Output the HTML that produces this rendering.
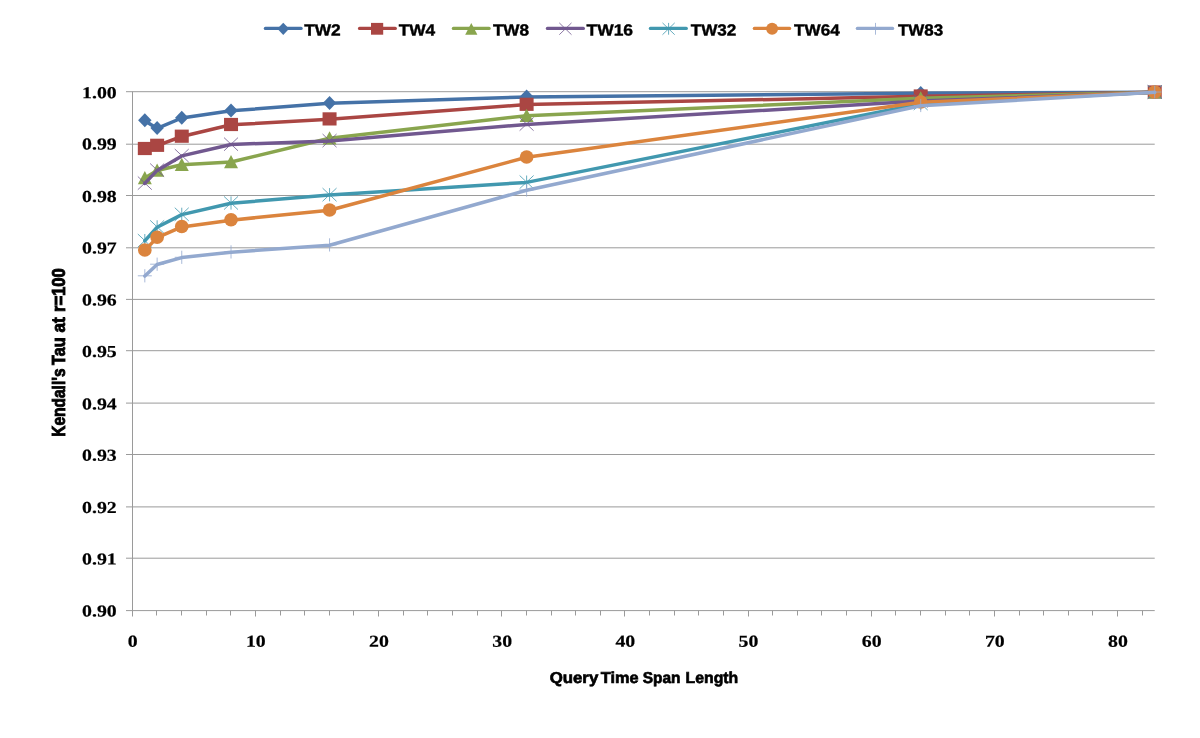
<!DOCTYPE html>
<html lang="en"><head><meta charset="utf-8"><title>Kendall's Tau at r=100 vs Query Time Span Length</title>
<style>
html,body{margin:0;padding:0;background:#fff;}
body{width:1200px;height:738px;overflow:hidden;}
svg{display:block;}
text{font-family:"Liberation Sans",sans-serif;font-weight:bold;fill:#000;}
text.tick,.tick text{font-family:"Liberation Serif",serif;font-weight:bold;font-size:16.8px;stroke:#000;stroke-width:0.2px;}
text.leg{font-size:16.1px;}
text.ttl{font-size:15.8px;stroke:#000;stroke-width:0.65px;}
text.yt{font-size:18.2px;stroke-width:0.9px;}
text.leg{stroke:#000;stroke-width:0.4px;}
</style></head><body>
<svg width="1200" height="738" viewBox="0 0 1200 738">
<rect width="1200" height="738" fill="#fff"/>
<g stroke="#9a9a9a" stroke-width="1" fill="none">
<path d="M126 91.7H1154.73"/>
<path d="M126 144.2H1154.73"/>
<path d="M126 195.5H1154.73"/>
<path d="M126 247.8H1154.73"/>
<path d="M126 299.4H1154.73"/>
<path d="M126 350.7H1154.73"/>
<path d="M126 403.1H1154.73"/>
<path d="M126 454.5H1154.73"/>
<path d="M126 506.9H1154.73"/>
<path d="M126 558.2H1154.73"/>
<path d="M126 610.6H1154.73"/>
<path d="M132.5 91.6V616.5"/>
<path d="M156.5 610.5v5M181.5 610.5v5M206.5 610.5v5M230.5 610.5v5M255.5 610.5v6M280.5 610.5v5M304.5 610.5v5M329.5 610.5v5M353.5 610.5v5M378.5 610.5v6M403.5 610.5v5M427.5 610.5v5M452.5 610.5v5M477.5 610.5v5M501.5 610.5v6M526.5 610.5v5M551.5 610.5v5M575.5 610.5v5M600.5 610.5v5M624.5 610.5v6M649.5 610.5v5M674.5 610.5v5M698.5 610.5v5M723.5 610.5v5M748.5 610.5v6M772.5 610.5v5M797.5 610.5v5M821.5 610.5v5M846.5 610.5v5M871.5 610.5v6M895.5 610.5v5M920.5 610.5v5M945.5 610.5v5M969.5 610.5v5M994.5 610.5v6M1019.5 610.5v5M1043.5 610.5v5M1068.5 610.5v5M1092.5 610.5v5M1117.5 610.5v6M1142.5 610.5v5"/>
</g>
<g class="tick" text-anchor="end">
<text transform="translate(116.7 98.2) rotate(0.03) scale(1.18 1)">1.00</text>
<text transform="translate(116.7 149.6) rotate(0.03) scale(1.18 1)">0.99</text>
<text transform="translate(116.7 202.1) rotate(0.03) scale(1.18 1)">0.98</text>
<text transform="translate(116.7 253.5) rotate(0.03) scale(1.18 1)">0.97</text>
<text transform="translate(116.7 305.4) rotate(0.03) scale(1.18 1)">0.96</text>
<text transform="translate(116.7 356.9) rotate(0.03) scale(1.18 1)">0.95</text>
<text transform="translate(116.7 409.4) rotate(0.03) scale(1.18 1)">0.94</text>
<text transform="translate(116.7 460.8) rotate(0.03) scale(1.18 1)">0.93</text>
<text transform="translate(116.7 513.1) rotate(0.03) scale(1.18 1)">0.92</text>
<text transform="translate(116.7 564.6) rotate(0.03) scale(1.18 1)">0.91</text>
<text transform="translate(116.7 616.6) rotate(0.03) scale(1.18 1)">0.90</text>
</g>
<g class="tick" text-anchor="middle">
<text transform="translate(132.7 646.7) rotate(0.03) scale(1.18 1)">0</text>
<text transform="translate(255.86 646.7) rotate(0.03) scale(1.18 1)">10</text>
<text transform="translate(379.02 646.7) rotate(0.03) scale(1.18 1)">20</text>
<text transform="translate(502.18 646.7) rotate(0.03) scale(1.18 1)">30</text>
<text transform="translate(625.34 646.7) rotate(0.03) scale(1.18 1)">40</text>
<text transform="translate(748.5 646.7) rotate(0.03) scale(1.18 1)">50</text>
<text transform="translate(871.66 646.7) rotate(0.03) scale(1.18 1)">60</text>
<text transform="translate(994.82 646.7) rotate(0.03) scale(1.18 1)">70</text>
<text transform="translate(1117.98 646.7) rotate(0.03) scale(1.18 1)">80</text>
</g>
<text class="ttl" transform="translate(0 682.6) rotate(0.03)"><tspan x="549.65" textLength="48.6" lengthAdjust="spacingAndGlyphs">Query</tspan> <tspan x="600.75" textLength="37.75" lengthAdjust="spacingAndGlyphs">Time</tspan> <tspan x="642.75" textLength="37.75" lengthAdjust="spacingAndGlyphs">Span</tspan> <tspan x="685.6" textLength="52.65" lengthAdjust="spacingAndGlyphs">Length</tspan></text>
<text class="ttl yt" transform="translate(65.4 436.5) rotate(-90)" y="0"><tspan x="-0.2" textLength="68.2" lengthAdjust="spacingAndGlyphs">Kendall's</tspan> <tspan x="71.5" textLength="27.5" lengthAdjust="spacingAndGlyphs">Tau</tspan> <tspan x="104" textLength="15.3" lengthAdjust="spacingAndGlyphs">at</tspan> <tspan x="124.5" textLength="43.75" lengthAdjust="spacingAndGlyphs">r=100</tspan></text>
<g>
<path d="M144.82 120.65L157.13 128.4L181.76 118L231.03 110.8L329.56 103.3L526.61 96.9L920.72 93.2L1154.73 92.3" stroke="#4572A7" stroke-width="3.5" fill="none" stroke-linejoin="round" stroke-linecap="round"/>
<path d="M144.82 113.35L151.54 120.35L144.82 127.35L138.1 120.35Z" fill="#4572A7"/>
<path d="M157.13 121.1L163.85 128.1L157.13 135.1L150.41 128.1Z" fill="#4572A7"/>
<path d="M181.76 110.7L188.48 117.7L181.76 124.7L175.04 117.7Z" fill="#4572A7"/>
<path d="M231.03 103.5L237.75 110.5L231.03 117.5L224.31 110.5Z" fill="#4572A7"/>
<path d="M329.56 96L336.28 103L329.56 110L322.84 103Z" fill="#4572A7"/>
<path d="M526.61 89.6L533.33 96.6L526.61 103.6L519.89 96.6Z" fill="#4572A7"/>
<path d="M920.72 85.9L927.44 92.9L920.72 99.9L914 92.9Z" fill="#4572A7"/>
<path d="M1154.73 85L1161.45 92L1154.73 99L1148.01 92Z" fill="#4572A7"/>
</g>
<g>
<path d="M144.82 148.8L157.13 145.6L181.76 136.5L231.03 124.8L329.56 119.2L526.61 104.6L920.72 96.3L1154.73 92.3" stroke="#AA4643" stroke-width="3.5" fill="none" stroke-linejoin="round" stroke-linecap="round"/>
<rect x="137.82" y="141.9" width="14" height="13.2" fill="#AA4643"/>
<rect x="150.13" y="138.7" width="14" height="13.2" fill="#AA4643"/>
<rect x="174.76" y="129.6" width="14" height="13.2" fill="#AA4643"/>
<rect x="224.03" y="117.9" width="14" height="13.2" fill="#AA4643"/>
<rect x="322.56" y="112.3" width="14" height="13.2" fill="#AA4643"/>
<rect x="519.61" y="97.7" width="14" height="13.2" fill="#AA4643"/>
<rect x="913.72" y="89.4" width="14" height="13.2" fill="#AA4643"/>
<rect x="1147.73" y="85.4" width="14" height="13.2" fill="#AA4643"/>
</g>
<g>
<path d="M144.82 177.9L157.13 170.5L181.76 164.7L231.03 162L329.56 138.2L526.61 115.7L920.72 98.2L1154.73 92.3" stroke="#89A54E" stroke-width="3.5" fill="none" stroke-linejoin="round" stroke-linecap="round"/>
<path d="M144.82 171L151.82 184.2L137.82 184.2Z" fill="#89A54E"/>
<path d="M157.13 163.6L164.13 176.8L150.13 176.8Z" fill="#89A54E"/>
<path d="M181.76 157.8L188.76 171L174.76 171Z" fill="#89A54E"/>
<path d="M231.03 155.1L238.03 168.3L224.03 168.3Z" fill="#89A54E"/>
<path d="M329.56 131.3L336.56 144.5L322.56 144.5Z" fill="#89A54E"/>
<path d="M526.61 108.8L533.61 122L519.61 122Z" fill="#89A54E"/>
<path d="M920.72 91.3L927.72 104.5L913.72 104.5Z" fill="#89A54E"/>
<path d="M1154.73 85.4L1161.73 98.6L1147.73 98.6Z" fill="#89A54E"/>
</g>
<g>
<path d="M144.82 183.4L157.13 170.4L181.76 155.9L231.03 144.5L329.56 140.9L526.61 124.4L920.72 101.1L1154.73 92.3" stroke="#71588F" stroke-width="3.5" fill="none" stroke-linejoin="round" stroke-linecap="round"/>
<path d="M137.82 176.5L151.82 189.7M137.82 189.7L151.82 176.5" stroke="#71588F" stroke-width="1" stroke-opacity="0.8" fill="none"/>
<path d="M150.13 163.5L164.13 176.7M150.13 176.7L164.13 163.5" stroke="#71588F" stroke-width="1" stroke-opacity="0.8" fill="none"/>
<path d="M174.76 149L188.76 162.2M174.76 162.2L188.76 149" stroke="#71588F" stroke-width="1" stroke-opacity="0.8" fill="none"/>
<path d="M224.03 137.6L238.03 150.8M224.03 150.8L238.03 137.6" stroke="#71588F" stroke-width="1" stroke-opacity="0.8" fill="none"/>
<path d="M322.56 134L336.56 147.2M322.56 147.2L336.56 134" stroke="#71588F" stroke-width="1" stroke-opacity="0.8" fill="none"/>
<path d="M519.61 117.5L533.61 130.7M519.61 130.7L533.61 117.5" stroke="#71588F" stroke-width="1" stroke-opacity="0.8" fill="none"/>
<path d="M913.72 94.2L927.72 107.4M913.72 107.4L927.72 94.2" stroke="#71588F" stroke-width="1" stroke-opacity="0.8" fill="none"/>
<path d="M1147.73 85.4L1161.73 98.6M1147.73 98.6L1161.73 85.4" stroke="#71588F" stroke-width="1" stroke-opacity="0.8" fill="none"/>
</g>
<g>
<path d="M144.82 240.9L157.13 227.2L181.76 214.6L231.03 203.3L329.56 195L526.61 182.4L920.72 103.8L1154.73 92.3" stroke="#4198AF" stroke-width="3.5" fill="none" stroke-linejoin="round" stroke-linecap="round"/>
<path d="M137.82 234L151.82 247.2M137.82 247.2L151.82 234M144.82 234L144.82 247.2" stroke="#4198AF" stroke-width="1" stroke-opacity="0.8" fill="none"/>
<path d="M150.13 220.3L164.13 233.5M150.13 233.5L164.13 220.3M157.13 220.3L157.13 233.5" stroke="#4198AF" stroke-width="1" stroke-opacity="0.8" fill="none"/>
<path d="M174.76 207.7L188.76 220.9M174.76 220.9L188.76 207.7M181.76 207.7L181.76 220.9" stroke="#4198AF" stroke-width="1" stroke-opacity="0.8" fill="none"/>
<path d="M224.03 196.4L238.03 209.6M224.03 209.6L238.03 196.4M231.03 196.4L231.03 209.6" stroke="#4198AF" stroke-width="1" stroke-opacity="0.8" fill="none"/>
<path d="M322.56 188.1L336.56 201.3M322.56 201.3L336.56 188.1M329.56 188.1L329.56 201.3" stroke="#4198AF" stroke-width="1" stroke-opacity="0.8" fill="none"/>
<path d="M519.61 175.5L533.61 188.7M519.61 188.7L533.61 175.5M526.61 175.5L526.61 188.7" stroke="#4198AF" stroke-width="1" stroke-opacity="0.8" fill="none"/>
<path d="M913.72 96.9L927.72 110.1M913.72 110.1L927.72 96.9M920.72 96.9L920.72 110.1" stroke="#4198AF" stroke-width="1" stroke-opacity="0.8" fill="none"/>
<path d="M1147.73 85.4L1161.73 98.6M1147.73 98.6L1161.73 85.4M1154.73 85.4L1154.73 98.6" stroke="#4198AF" stroke-width="1" stroke-opacity="0.8" fill="none"/>
</g>
<g>
<path d="M144.82 250.4L157.13 237.6L181.76 226.9L231.03 220.15L329.56 210.2L526.61 157.3L920.72 102.3L1154.73 92.3" stroke="#DB843D" stroke-width="3.5" fill="none" stroke-linejoin="round" stroke-linecap="round"/>
<ellipse cx="144.82" cy="250.1" rx="6.86" ry="6.73" fill="#DB843D"/>
<ellipse cx="157.13" cy="237.3" rx="6.86" ry="6.73" fill="#DB843D"/>
<ellipse cx="181.76" cy="226.6" rx="6.86" ry="6.73" fill="#DB843D"/>
<ellipse cx="231.03" cy="219.85" rx="6.86" ry="6.73" fill="#DB843D"/>
<ellipse cx="329.56" cy="209.9" rx="6.86" ry="6.73" fill="#DB843D"/>
<ellipse cx="526.61" cy="157" rx="6.86" ry="6.73" fill="#DB843D"/>
<ellipse cx="920.72" cy="102" rx="6.86" ry="6.73" fill="#DB843D"/>
<ellipse cx="1154.73" cy="92" rx="6.86" ry="6.73" fill="#DB843D"/>
</g>
<g>
<path d="M144.82 276.1L157.13 264.5L181.76 257.6L231.03 252.2L329.56 245.2L526.61 190.3L920.72 105.8L1154.73 92.3" stroke="#93A9CF" stroke-width="3.5" fill="none" stroke-linejoin="round" stroke-linecap="round"/>
<path d="M137.82 275.8L151.82 275.8M144.82 269.2L144.82 282.4" stroke="#93A9CF" stroke-width="1" stroke-opacity="0.8" fill="none"/>
<path d="M150.13 264.2L164.13 264.2M157.13 257.6L157.13 270.8" stroke="#93A9CF" stroke-width="1" stroke-opacity="0.8" fill="none"/>
<path d="M174.76 257.3L188.76 257.3M181.76 250.7L181.76 263.9" stroke="#93A9CF" stroke-width="1" stroke-opacity="0.8" fill="none"/>
<path d="M224.03 251.9L238.03 251.9M231.03 245.3L231.03 258.5" stroke="#93A9CF" stroke-width="1" stroke-opacity="0.8" fill="none"/>
<path d="M322.56 244.9L336.56 244.9M329.56 238.3L329.56 251.5" stroke="#93A9CF" stroke-width="1" stroke-opacity="0.8" fill="none"/>
<path d="M519.61 190L533.61 190M526.61 183.4L526.61 196.6" stroke="#93A9CF" stroke-width="1" stroke-opacity="0.8" fill="none"/>
<path d="M913.72 105.5L927.72 105.5M920.72 98.9L920.72 112.1" stroke="#93A9CF" stroke-width="1" stroke-opacity="0.8" fill="none"/>
<path d="M1147.73 92L1161.73 92M1154.73 85.4L1154.73 98.6" stroke="#93A9CF" stroke-width="1" stroke-opacity="0.8" fill="none"/>
</g>
<g>
<path d="M265.4 28.45H301.1" stroke="#4572A7" stroke-width="3.3" stroke-linecap="round" fill="none"/>
<path d="M283.25 22.7L289.11 28.8L283.25 34.9L277.39 28.8Z" fill="#4572A7"/>
<text class="leg" transform="translate(304.15 35.6) rotate(0.03)" textLength="36.6" lengthAdjust="spacingAndGlyphs">TW2</text>
<path d="M359.55 28.45H395.25" stroke="#AA4643" stroke-width="3.3" stroke-linecap="round" fill="none"/>
<rect x="371" y="22.9" width="12.2" height="11.8" fill="#AA4643"/>
<text class="leg" transform="translate(398.65 35.6) rotate(0.03)" textLength="36.6" lengthAdjust="spacingAndGlyphs">TW4</text>
<path d="M453.4 28.45H489.1" stroke="#89A54E" stroke-width="3.3" stroke-linecap="round" fill="none"/>
<path d="M471.3 22.9L477.4 34.7L465.2 34.7Z" fill="#89A54E"/>
<text class="leg" transform="translate(492.9 35.6) rotate(0.03)" textLength="36.2" lengthAdjust="spacingAndGlyphs">TW8</text>
<path d="M547.45 28.45H583.35" stroke="#71588F" stroke-width="3.3" stroke-linecap="round" fill="none"/>
<path d="M559.3 22.9L571.5 34.7M559.3 34.7L571.5 22.9" stroke="#71588F" stroke-width="1" stroke-opacity="0.8" fill="none"/>
<text class="leg" transform="translate(586.6 35.6) rotate(0.03)" textLength="46.4" lengthAdjust="spacingAndGlyphs">TW16</text>
<path d="M650.4 28.45H686.25" stroke="#4198AF" stroke-width="3.3" stroke-linecap="round" fill="none"/>
<path d="M662.5 22.9L674.7 34.7M662.5 34.7L674.7 22.9M668.6 22.9L668.6 34.7" stroke="#4198AF" stroke-width="1" stroke-opacity="0.8" fill="none"/>
<text class="leg" transform="translate(690.7 35.6) rotate(0.03)" textLength="45.6" lengthAdjust="spacingAndGlyphs">TW32</text>
<path d="M754.35 28.45H789.6" stroke="#DB843D" stroke-width="3.3" stroke-linecap="round" fill="none"/>
<ellipse cx="772.1" cy="28.8" rx="5.98" ry="6.02" fill="#DB843D"/>
<text class="leg" transform="translate(794.1 35.6) rotate(0.03)" textLength="45.6" lengthAdjust="spacingAndGlyphs">TW64</text>
<path d="M857.35 28.45H892.6" stroke="#93A9CF" stroke-width="3.3" stroke-linecap="round" fill="none"/>
<path d="M869.4 28.8L881.6 28.8M875.5 22.9L875.5 34.7" stroke="#93A9CF" stroke-width="1" stroke-opacity="0.8" fill="none"/>
<text class="leg" transform="translate(897.9 35.6) rotate(0.03)" textLength="45.2" lengthAdjust="spacingAndGlyphs">TW83</text>
</g>
</svg>
</body></html>
